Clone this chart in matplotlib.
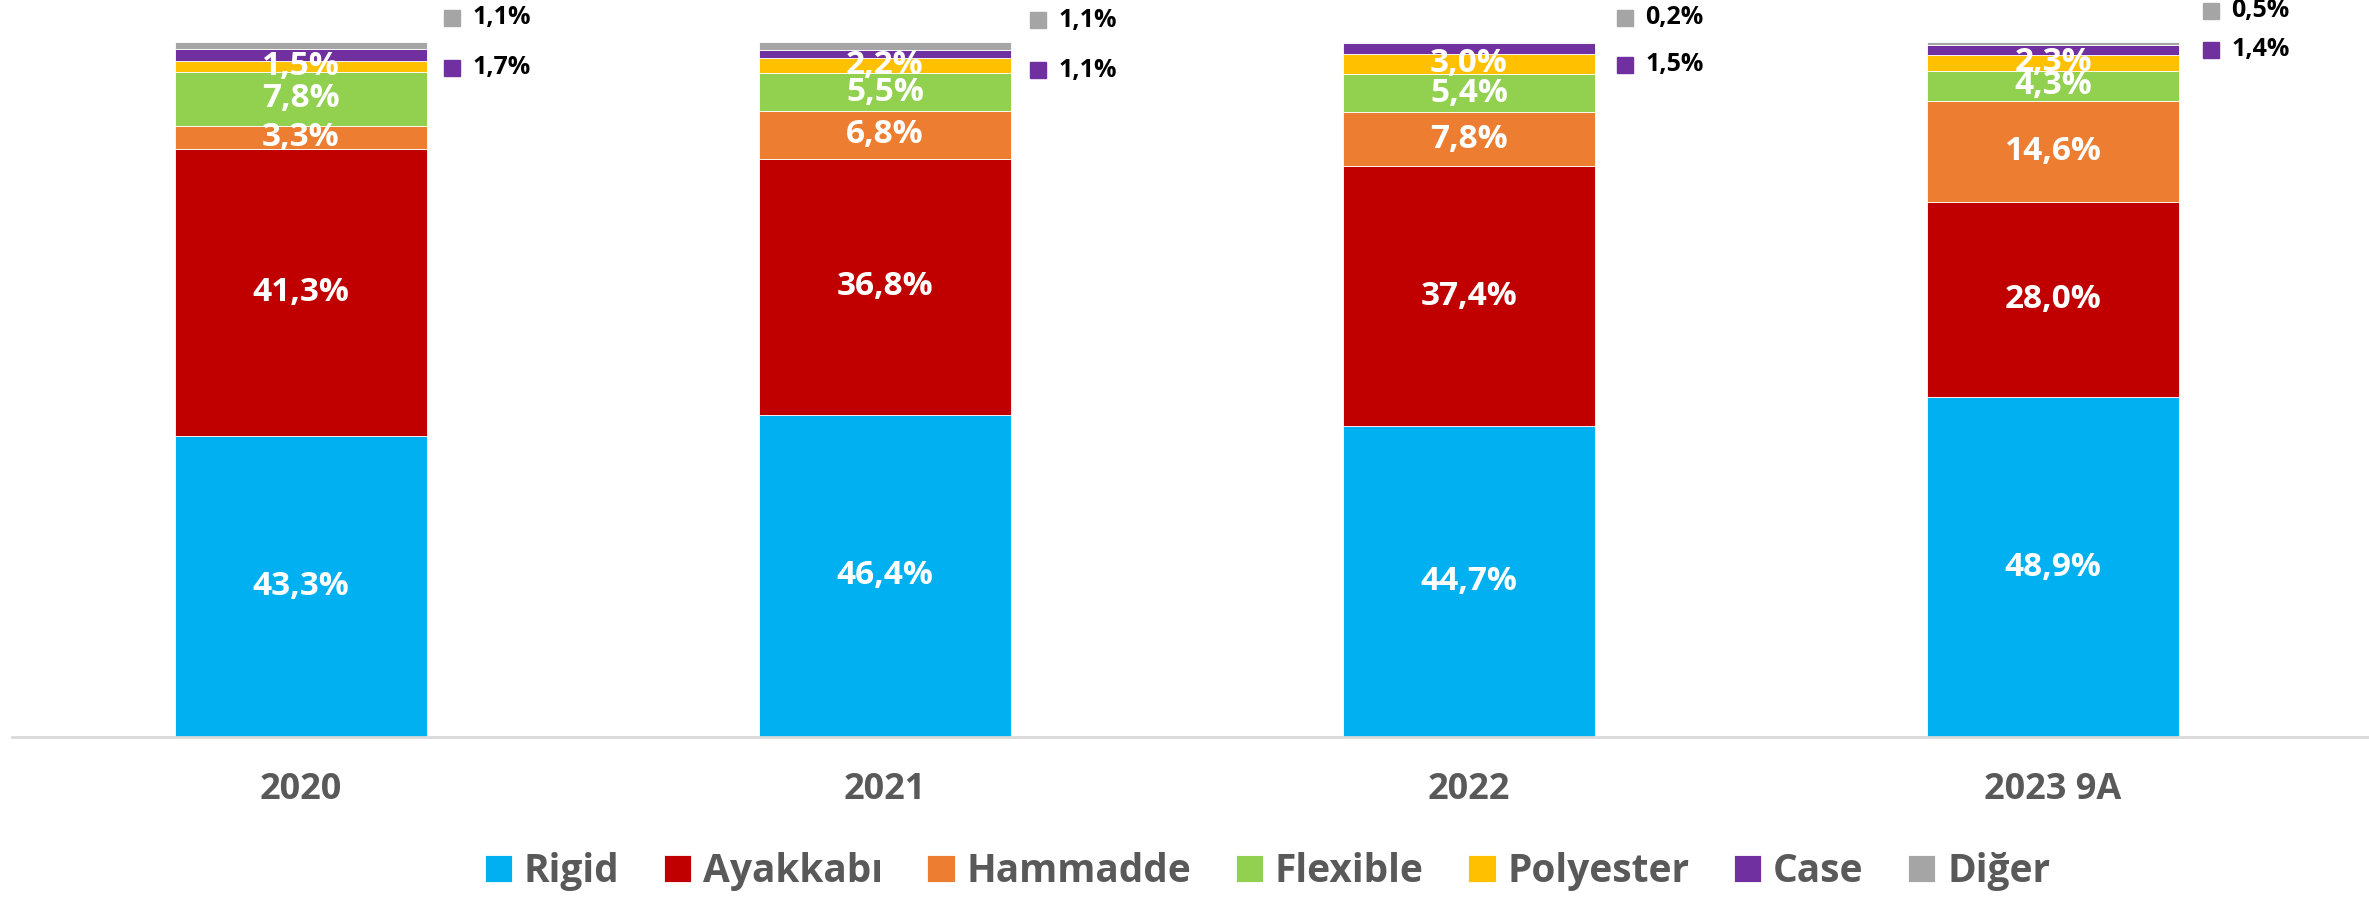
import matplotlib
matplotlib.use('Agg')
import matplotlib.pyplot as plt
import matplotlib.transforms as mtransforms
import numpy as np

plt.rcParams['font.family'] = ['Open Sans', 'DejaVu Sans']
plt.rcParams['font.weight'] = 'bold'

years = ['2020', '2021', '2022', '2023 9A']
series = ['Rigid', 'Ayakkabı', 'Hammadde', 'Flexible', 'Polyester', 'Case', 'Diğer']
rigid = [43.3, 46.4, 44.7, 48.9]
ayakkabi = [41.3, 36.8, 37.4, 28.0]
hammadde = [3.3, 6.8, 7.8, 14.6]
flexible = [7.8, 5.5, 5.4, 4.3]
polyester = [1.5, 2.2, 3.0, 2.3]
case = [1.7, 1.1, 1.5, 1.4]
diger = [1.1, 1.1, 0.2, 0.5]

colors = ['#00B0F0', '#C00000', '#ED7D31', '#92D050', '#FFC000', '#7030A0', '#A5A5A5']

# pixel offsets of the outside labels (Diğer above, Case below the bar top)
diger_dy = [24, 22, 24, 31]
case_dy = [-26, -28, -23, -8]
side_dx = [13, 15, 18, 20]


def fmt(v):
    return f"{v:.1f}".replace('.', ',') + '%'


def main():
    data = [rigid, ayakkabi, hammadde, flexible, polyester, case, diger]
    fig = plt.figure(figsize=(23.69, 8.97), dpi=100)
    ax = fig.add_axes([0.005, 0.178, 0.995, 0.822])
    x = np.arange(len(years))
    w = 0.432
    bottom = np.zeros(len(years))
    for k, vals in enumerate(data):
        vals = np.array(vals)
        ax.bar(x, vals, w, bottom=bottom, color=colors[k], label=series[k],
               edgecolor='white', linewidth=0.6)
        if k < 5:
            for i in range(len(years)):
                ax.text(x[i], bottom[i] + vals[i] / 2, fmt(vals[i]), ha='center', va='center',
                        color='white', fontsize=24, fontweight='bold')
        bottom = bottom + vals

    # outside labels for Case and Diğer
    for i in range(len(years)):
        top = bottom[i]
        for vals, dy, col in [(diger, diger_dy, colors[6]), (case, case_dy, colors[5])]:
            tr = mtransforms.offset_copy(ax.transData, fig=fig, x=side_dx[i] + 12, y=dy[i], units='dots')
            ax.plot(x[i] + w / 2, top, marker='s', ms=11, color=col, transform=tr, clip_on=False)
            tr2 = mtransforms.offset_copy(ax.transData, fig=fig, x=side_dx[i] + 32, y=dy[i], units='dots')
            ax.text(x[i] + w / 2, top, fmt(vals[i]), transform=tr2, ha='left', va='center',
                    fontsize=18, fontweight='bold', color='black', clip_on=False)

    ax.set_xlim(-0.495, 3.541)
    ax.set_ylim(0, 106)
    ax.set_xticks(x)
    ax.set_xticklabels(years, fontsize=26, fontweight='bold', color='#595959')
    ax.tick_params(axis='x', length=0, pad=25)
    ax.set_yticks([])
    for s in ['top', 'right', 'left']:
        ax.spines[s].set_visible(False)
    ax.spines['bottom'].set_color('#D9D9D9')
    ax.spines['bottom'].set_linewidth(2)

    leg = fig.legend(loc='center', bbox_to_anchor=(0.535, 0.028), ncol=7, frameon=False,
                     handlelength=0.7, handleheight=0.7, handletextpad=0.3, columnspacing=1.15,
                     prop={'size': 28, 'weight': 'bold'})
    for t in leg.get_texts():
        t.set_color('#595959')

    fig.savefig('out.png', dpi=100)


if __name__ == '__main__':
    main()
